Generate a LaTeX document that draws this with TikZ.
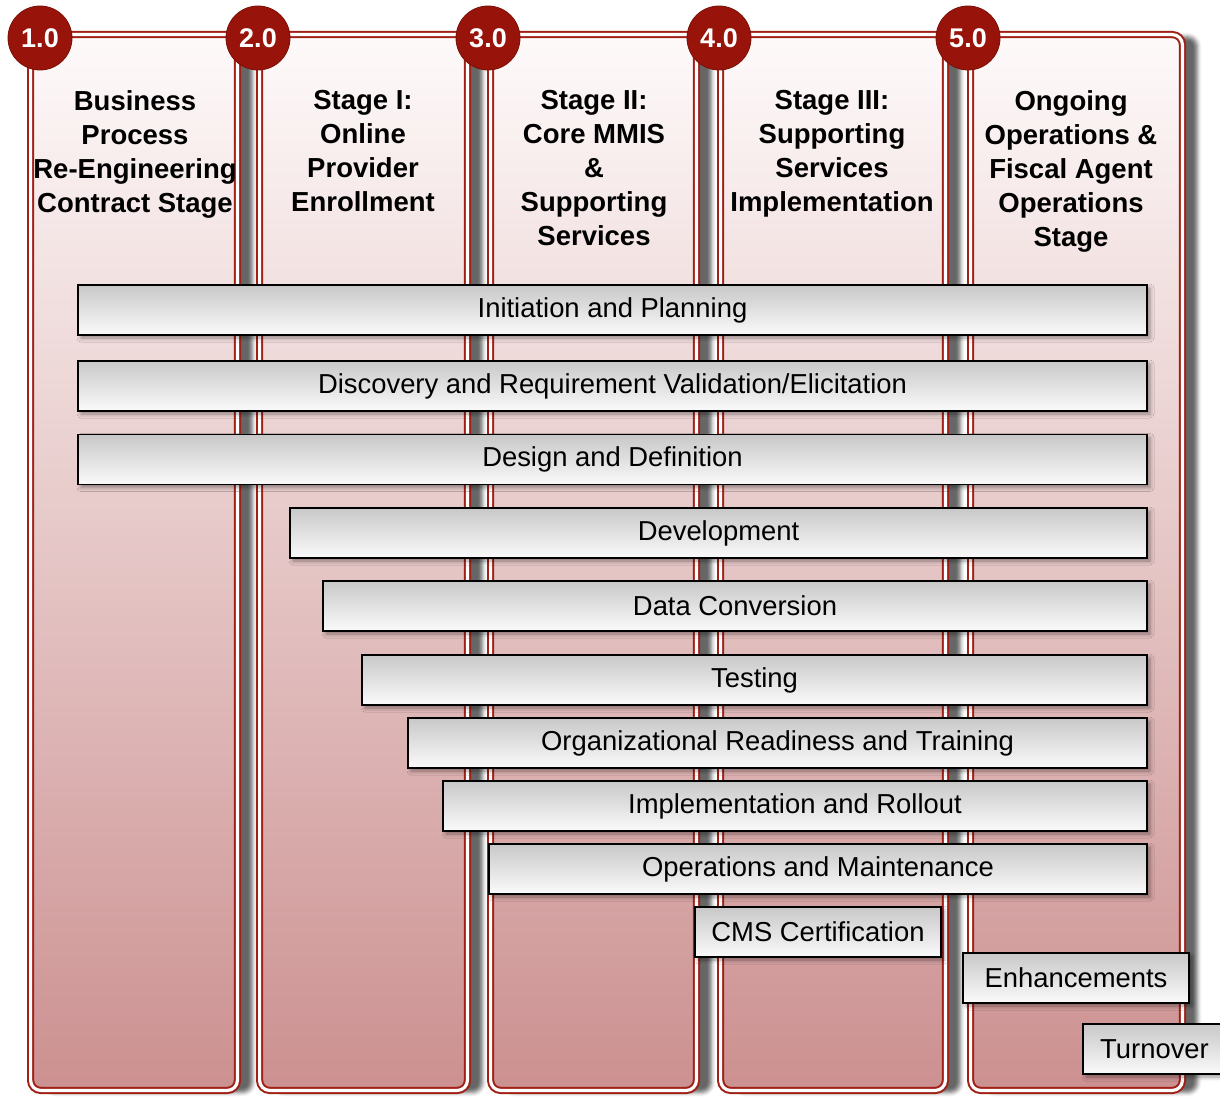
\documentclass[tikz,border=0pt]{standalone}
\usepackage{fontspec}
\setmainfont{Liberation Sans}
\usetikzlibrary{shadows.blur}

\definecolor{colline}{RGB}{160,32,22}
\definecolor{badgered}{RGB}{152,20,10}
\definecolor{coltop}{RGB}{254,250,250}
\definecolor{colbot}{RGB}{204,144,144}
\definecolor{bartop}{RGB}{200,200,200}
\definecolor{barbot}{RGB}{250,250,250}

\tikzset{
  stagecol/.style={draw=colline, line width=1pt, double=white, double distance=1.6pt,
    rounded corners=5pt, top color=coltop, bottom color=colbot,
    blur shadow={shadow xshift=7.5pt, shadow yshift=-1pt, shadow blur radius=2pt, shadow opacity=60}},
  badge/.style={circle, fill=badgered, draw=badgered!80!black, line width=0.4pt,
    minimum size=32pt, inner sep=0pt, text=white, font=\bfseries\fontsize{13.5}{16}\selectfont},
  stagehead/.style={align=center, inner sep=0pt, anchor=north,
    font=\bfseries\fontsize{13.75}{17}\selectfont},
  phase/.style={draw=black, line width=0.9pt, top color=bartop, bottom color=barbot,
    inner sep=0pt, minimum height=25pt, font=\fontsize{13.7}{16}\selectfont,
    blur shadow={shadow xshift=1.5pt, shadow yshift=-1.5pt, shadow blur radius=2pt, shadow opacity=40}}
}

\begin{document}
\begin{tikzpicture}[x=0.5pt, y=-0.5pt]
    \useasboundingbox (0, 0) rectangle (1220, 1097);
    % stage columns
    \foreach \l/\r in {27/241, 256/471, 487/700, 717/949, 967/1186}
      \draw[stagecol] (\l+3.6, 34.6) rectangle (\r-3.6, 1090.4);
    % stage numbers
    \node[badge] (b1) at (40, 38) {1.0};
    \node[badge] (b2) at (258, 38) {2.0};
    \node[badge] (b3) at (488, 38) {3.0};
    \node[badge] (b4) at (719, 38) {4.0};
    \node[badge] (b5) at (968, 38) {5.0};
    % stage titles
    \node[stagehead] (h1) at (135, 90) {Business\\Process\\Re-Engineering\\Contract Stage};
    \node[stagehead] (h2) at (363, 90) {Stage I:\\Online\\Provider\\Enrollment};
    \node[stagehead] (h3) at (594, 90) {Stage II:\\Core MMIS\\\&\\Supporting\\Services};
    \node[stagehead] (h4) at (832, 90) {Stage III:\\Supporting\\Services\\Implementation};
    \node[stagehead] (h5) at (1071, 90) {Ongoing\\Operations \&\\Fiscal Agent\\Operations\\Stage};
    % phases
    \node[phase, minimum width=534.5pt] (init) at (612.5, 310) {Initiation and Planning};
    \node[phase, minimum width=534.5pt] (disc) at (612.5, 386) {Discovery and Requirement Validation/Elicitation};
    \node[phase, minimum width=534.5pt] (design) at (612.5, 459.5) {Design and Definition};
    \node[phase, minimum width=428.5pt] (dev) at (718.5, 533) {Development};
    \node[phase, minimum width=412pt] (conv) at (735, 606) {Data Conversion};
    \node[phase, minimum width=392.5pt] (test) at (754.5, 680) {Testing};
    \node[phase, minimum width=369.5pt] (ready) at (777.5, 743) {Organizational Readiness and Training};
    \node[phase, minimum width=352pt] (rollout) at (795, 806) {Implementation and Rollout};
    \node[phase, minimum width=329pt] (ops) at (818, 869) {Operations and Maintenance};
    \node[phase, minimum width=123pt] (cms) at (818, 932) {CMS Certification};
    \node[phase, minimum width=113pt] (enh) at (1076, 978) {Enhancements};
    \node[phase, minimum width=71.5pt] (turn) at (1154.5, 1049) {Turnover};
\end{tikzpicture}
\end{document}
